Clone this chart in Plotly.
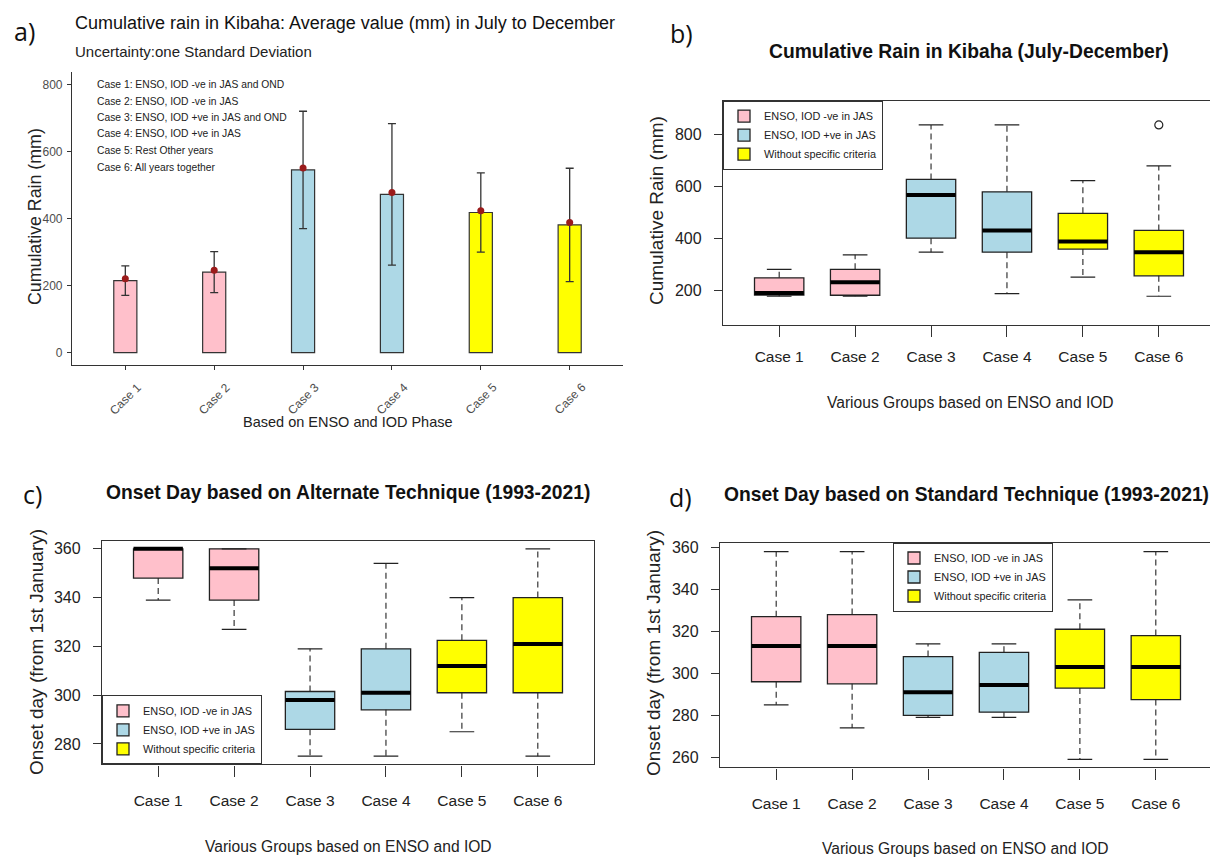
import plotly.graph_objects as go

# page offset (browser body margin) and figure size
OFF = 8
W, H = 1210, 853

# ---------------- data ----------------
cases = ["Case 1", "Case 2", "Case 3", "Case 4", "Case 5", "Case 6"]
case_pos = [1, 2, 3, 4, 5, 6]
group_names = ["ENSO, IOD -ve in JAS", "ENSO, IOD +ve in JAS", "Without specific criteria"]
group_colors = ["#FFC0CB", "#ADD8E6", "#FFFF00"]
case_group = [0, 0, 1, 1, 2, 2]

case_desc = [
    "Case 1: ENSO, IOD -ve in JAS and OND",
    "Case 2: ENSO, IOD -ve in JAS",
    "Case 3: ENSO, IOD +ve in JAS and OND",
    "Case 4: ENSO, IOD +ve in JAS",
    "Case 5: Rest Other years",
    "Case 6: All years together",
]

# panel a: average cumulative rain (mm) and one standard deviation
rain_bar = [215, 240, 545, 472, 418, 381]
rain_point = [220, 246, 551, 478, 423, 388]
rain_sd = [44, 61, 175, 211, 118, 169]

# panel b: cumulative rain box summaries (mm)
b_low = [177, 177, 347, 187, 251, 177]
b_q1 = [182, 181, 401, 347, 359, 256]
b_med = [190, 231, 568, 431, 388, 347]
b_q3 = [248, 281, 628, 580, 497, 431]
b_high = [281, 337, 838, 838, 623, 680]
b_out_x = [6]
b_out_y = [838]

# panel c: onset day, alternate technique
c_low = [339, 327, 275, 275, 285, 275]
c_q1 = [348, 339, 286, 294, 301, 301]
c_med = [360, 352, 298, 301, 312, 321]
c_q3 = [360, 360, 301.5, 319, 322.5, 340]
c_high = [360, 360, 319, 354, 340, 360]

# panel d: onset day, standard technique
d_low = [285, 274, 279, 279, 259, 259]
d_q1 = [296, 295, 280, 281.5, 293, 287.5]
d_med = [313, 313, 291, 294.5, 303, 303]
d_q3 = [327, 328, 308, 310, 321, 318]
d_high = [358, 358, 314, 314, 335, 358]

# ---------------- helpers ----------------
FONT = "Liberation Sans, Arial, sans-serif"
LABF = "Open Sans, Noto Sans, sans-serif"


def px(x):
    return (x - OFF) / W


def py(y):
    return 1 - (y - OFF) / H


fig = go.Figure()

# ---------------- panel a ----------------
fig.add_trace(go.Bar(
    x=case_pos, y=rain_bar, width=0.26,
    marker=dict(color=[group_colors[g] for g in case_group],
                line=dict(color="#333333", width=1.2)),
    error_y=dict(type="data", array=rain_sd, visible=True,
                 color="#333333", thickness=1.3, width=4),
    xaxis="x", yaxis="y", showlegend=False, name="Average",
))
fig.add_trace(go.Scatter(
    x=case_pos, y=rain_point, mode="markers",
    marker=dict(color="#9B1B1B", size=7),
    xaxis="x", yaxis="y", showlegend=False, name="Mean",
))

# ---------------- box panels ----------------
BOXW = 0.65


def add_box_panel(xa, ya, low, q1, med, q3, high, legend_name):
    for g in range(3):
        idx = [i for i in range(6) if case_group[i] == g]
        fig.add_trace(go.Bar(
            x=[case_pos[i] for i in idx],
            base=[q1[i] for i in idx],
            y=[q3[i] - q1[i] for i in idx],
            width=BOXW,
            marker=dict(color=group_colors[g], line=dict(color="#222222", width=1.3)),
            name=group_names[g], legend=legend_name,
            xaxis=xa, yaxis=ya, showlegend=True,
        ))
    wx, wy, cx, cy, mx, my = [], [], [], [], [], []
    for i in range(6):
        p = case_pos[i]
        wx += [p, p, None, p, p, None]
        wy += [q3[i], high[i], None, q1[i], low[i], None]
        cx += [p - BOXW / 4, p + BOXW / 4, None, p - BOXW / 4, p + BOXW / 4, None]
        cy += [high[i], high[i], None, low[i], low[i], None]
        mx += [p - BOXW / 2, p + BOXW / 2, None]
        my += [med[i], med[i], None]
    fig.add_trace(go.Scatter(x=wx, y=wy, mode="lines",
                             line=dict(color="#222222", width=1.1, dash="6px,4px"),
                             xaxis=xa, yaxis=ya, showlegend=False, hoverinfo="skip"))
    fig.add_trace(go.Scatter(x=cx, y=cy, mode="lines",
                             line=dict(color="#222222", width=1.2),
                             xaxis=xa, yaxis=ya, showlegend=False, hoverinfo="skip"))
    fig.add_trace(go.Scatter(x=mx, y=my, mode="lines",
                             line=dict(color="#000000", width=4),
                             xaxis=xa, yaxis=ya, showlegend=False, name="Median"))


add_box_panel("x2", "y2", b_low, b_q1, b_med, b_q3, b_high, "legend")
fig.add_trace(go.Scatter(x=b_out_x, y=b_out_y, mode="markers",
                         marker=dict(symbol="circle-open", size=8, color="#222222", line=dict(width=1.2)),
                         xaxis="x2", yaxis="y2", showlegend=False, name="Outlier"))
add_box_panel("x3", "y3", c_low, c_q1, c_med, c_q3, c_high, "legend2")
add_box_panel("x4", "y4", d_low, d_q1, d_med, d_q3, d_high, "legend3")

# ---------------- axes ----------------
R_TICK = dict(family=FONT, size=15.5, color="#222222")


def r_xaxis(dom, anchor, standoff):
    return dict(domain=dom, anchor=anchor, range=[0.26, 6.74], tickmode="array",
                tickvals=case_pos, ticktext=cases, ticks="outside", ticklen=11,
                tickcolor="#333333", tickwidth=1.2, showline=True, mirror=True,
                linecolor="#333333", linewidth=1.3, showgrid=False, zeroline=False,
                tickfont=R_TICK, ticklabelstandoff=standoff, fixedrange=True)


def r_yaxis(dom, anchor, rng, tv):
    return dict(domain=dom, anchor=anchor, range=rng, tickmode="array", tickvals=tv,
                ticks="outside", ticklen=8, tickcolor="#333333", tickwidth=1.2,
                showline=True, mirror=True, linecolor="#333333", linewidth=1.3,
                showgrid=False, zeroline=False, tickfont=dict(family=FONT, size=16, color="#222222"),
                ticklabelstandoff=9, fixedrange=True)


layout = dict(
    width=W, height=H, margin=dict(l=0, r=0, t=0, b=0),
    paper_bgcolor="white", plot_bgcolor="white", barmode="overlay",
    font=dict(family=FONT, color="#222222"),
    xaxis=dict(domain=[px(72), px(623)], anchor="y", range=[0.4, 6.6], tickmode="array",
               tickvals=case_pos, ticks="outside", ticklen=4, tickcolor="#333333",
               showticklabels=False, showline=True, linecolor="#333333", linewidth=1.2,
               showgrid=False, zeroline=False, fixedrange=True),
    yaxis=dict(domain=[py(363), py(68)], anchor="x", range=[-38, 838], tickmode="array",
               tickvals=[0, 200, 400, 600, 800], ticks="outside", ticklen=4, tickcolor="#333333",
               tickfont=dict(family=FONT, size=12, color="#4d4d4d"), ticklabelstandoff=2,
               showline=True, linecolor="#333333", linewidth=1.2, showgrid=False,
               zeroline=False, fixedrange=True),
    xaxis2=r_xaxis([px(723), px(1215)], "y2", 7),
    yaxis2=r_yaxis([py(322), py(97)], "x2", [68, 932], [200, 400, 600, 800]),
    xaxis3=r_xaxis([px(102), px(594)], "y3", 11),
    yaxis3=r_yaxis([py(764), py(539)], "x3", [271.6, 363.4], [280, 300, 320, 340, 360]),
    xaxis4=r_xaxis([px(720), px(1212)], "y4", 11),
    yaxis4=r_yaxis([py(767), py(541)], "x4", [255.2, 362.3], [260, 280, 300, 320, 340, 360]),
)

LEG = dict(xanchor="left", yanchor="top", bgcolor="white", bordercolor="#333333",
           borderwidth=1, font=dict(family=FONT, size=10.9, color="#222222"),
           itemclick=False, itemdoubleclick=False, tracegroupgap=0)
layout["legend"] = dict(LEG, x=px(723), y=py(97))
layout["legend2"] = dict(LEG, x=px(102), y=py(764), yanchor="bottom")
layout["legend3"] = dict(LEG, x=px(893), y=py(541))

fig.update_layout(**layout)

# ---------------- text ----------------
ann = []
DY = -2  # glyph centre sits slightly below the text box centre


def text(x, y, s, size, color="#222222", family=FONT, xanchor="center", angle=0, bold=False):
    dy = DY if angle == 0 else 0
    ann.append(dict(x=px(x), y=py(y + dy), xref="paper", yref="paper", text=(f"<b>{s}</b>" if bold else s),
                    showarrow=False, xanchor=xanchor, yanchor="middle", textangle=angle,
                    font=dict(family=family, size=size, color=color)))


def label(x, y, s):
    ann.append(dict(x=px(x), y=py(y), xref="paper", yref="paper", text=s, showarrow=False,
                    xanchor="center", yanchor="top",
                    font=dict(family=LABF, size=25, color="#111111")))


# panel labels
label(24, 8.5, "a)")
label(681, 10, "b)")
label(32, 473, "c)")
label(680, 476, "d)")

# panel a texts
text(73, 21.5, "Cumulative rain in Kibaha: Average value (mm) in July to December", 18, "#111111", xanchor="left")
text(73, 50, "Uncertainty:one Standard Deviation", 15, "#222222", xanchor="left")
text(35, 214, "Cumulative Rain (mm)", 17.8, "#222222", angle=-90)
text(348, 422, "Based on ENSO and IOD Phase", 14.5, "#222222")
line_y = [83, 99.7, 116.3, 132.3, 149, 166.3]
for s, yy in zip(case_desc, line_y):
    text(95, yy, s, 10.3, "#222222", FONT, xanchor="left")
for p, s in zip(case_pos, cases):
    ann.append(dict(x=p, y=py(396.5), xref="x", yref="paper", text=s, showarrow=False,
                    xanchor="center", yanchor="middle", textangle=-45,
                    font=dict(family=FONT, size=12, color="#4d4d4d")))

# panel b texts
text(969, 50, "Cumulative Rain in Kibaha (July-December)", 19.3, "#111111", bold=True)
text(656, 208, "Cumulative Rain (mm)", 19, "#222222", angle=-90)
text(970, 402, "Various Groups based on ENSO and IOD", 15.6, "#222222")

# panel c texts
text(348, 493, "Onset Day based on Alternate Technique (1993-2021)", 19.3, "#111111", bold=True)
text(37, 651, "Onset day (from 1st January)", 19, "#222222", angle=-90)
text(348, 848, "Various Groups based on ENSO and IOD", 15.6, "#222222")

# panel d texts
text(966, 495, "Onset Day based on Standard Technique (1993-2021)", 19.3, "#111111", bold=True)
text(654, 652, "Onset day (from 1st January)", 19, "#222222", angle=-90)
text(965, 850, "Various Groups based on ENSO and IOD", 15.6, "#222222")

fig.update_layout(annotations=ann)

fig.write_html("out.html")
